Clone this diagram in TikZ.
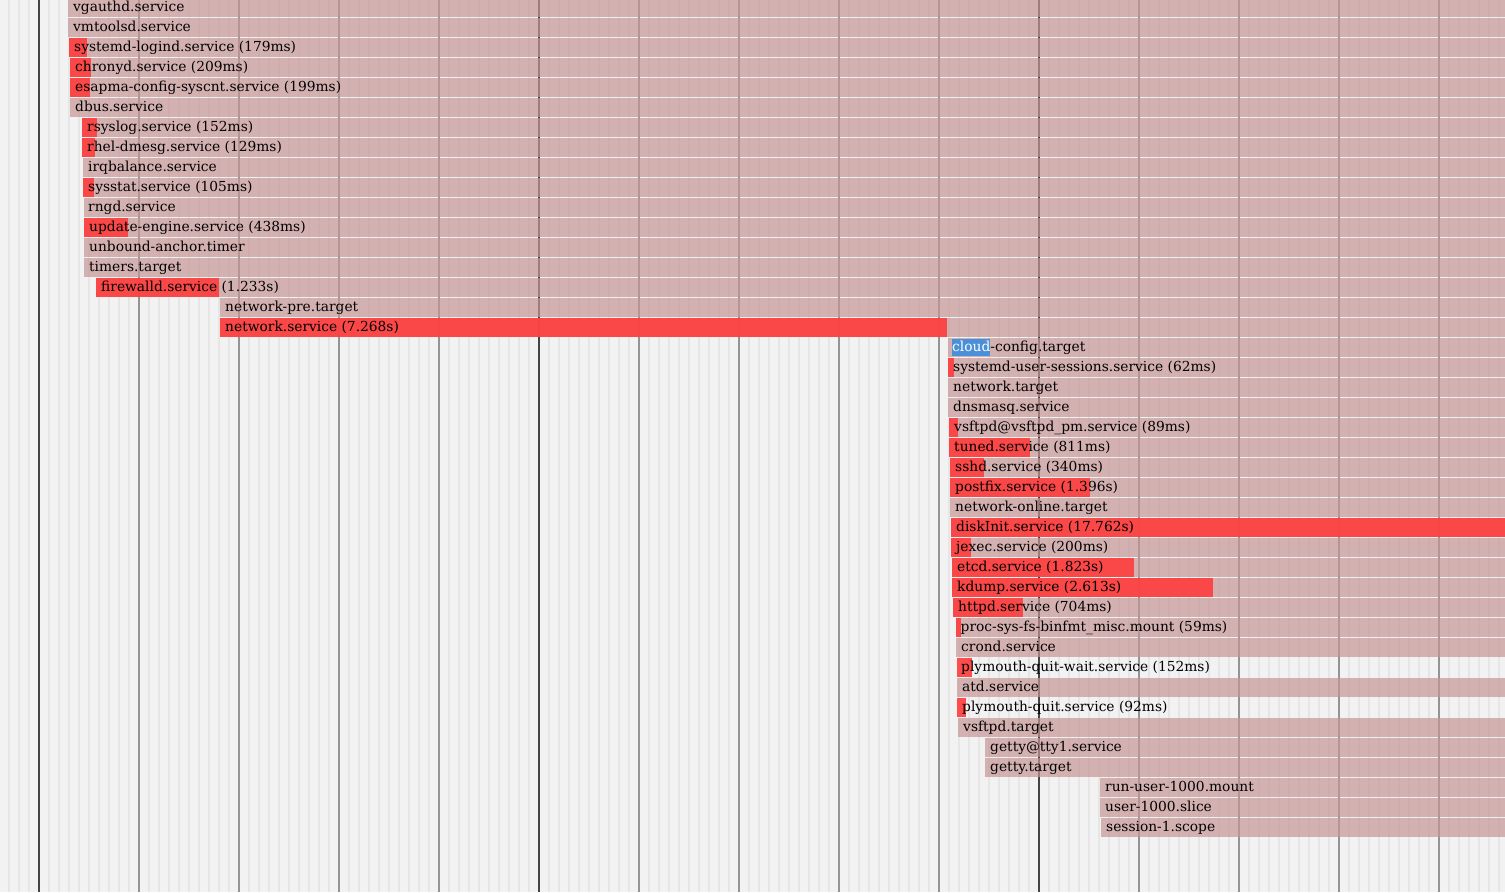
\documentclass[tikz,border=0pt]{standalone}
\usepackage{fontspec}
\setmainfont{DejaVu Serif}
\definecolor{plotbg}{RGB}{242,242,242}
\definecolor{faintline}{RGB}{230,230,230}
\definecolor{secline}{RGB}{148,148,148}
\definecolor{fiveline}{RGB}{68,68,68}
\definecolor{active}{RGB}{200,150,150}
\definecolor{activating}{RGB}{255,60,60}
\definecolor{selblue}{RGB}{74,144,217}
\tikzset{
  bar/.style={fill=active, fill opacity=0.7},
  act/.style={fill=activating, fill opacity=0.9},
  lbl/.style={anchor=base west, inner sep=0pt, font=\fontsize{13.8pt}{16pt}\selectfont},
}
\begin{document}
\begin{tikzpicture}[x=1pt, y=-1pt]
  \useasboundingbox (0,0) rectangle (1505,892);
  \clip (0,0) rectangle (1505,892);
  \fill[plotbg] (0,0) rectangle (1505,892);
  % time grid
  \foreach \gx in {9,19,...,1499} \draw[faintline, line width=1.3pt] (\gx,0) -- (\gx,892);
  \foreach \gx in {139,239,339,439,639,739,839,939,1139,1239,1339,1439} \draw[secline, line width=2pt] (\gx,0) -- (\gx,892);
  \foreach \gx in {39,539,1039} \draw[fiveline, line width=2pt] (\gx,0) -- (\gx,892);
  % units
  \fill[bar] (68,-2) rectangle (1505,17);
  \node[lbl] (vgauthd) at (73,11.9) {vgauthd.service};
  \fill[bar] (68,18) rectangle (1505,37);
  \node[lbl] (vmtoolsd) at (73,31.9) {vmtoolsd.service};
  \fill[bar] (69,38) rectangle (1505,57);
  \fill[act] (69,38) rectangle (86.9,57);
  \node[lbl] (logind) at (74,51.9) {systemd-logind.service (179ms)};
  \fill[bar] (70,58) rectangle (1505,77);
  \fill[act] (70,58) rectangle (90.9,77);
  \node[lbl] (chronyd) at (75,71.9) {chronyd.service (209ms)};
  \fill[bar] (70,78) rectangle (1505,97);
  \fill[act] (70,78) rectangle (89.9,97);
  \node[lbl] (esapma) at (75,91.9) {esapma-config-syscnt.service (199ms)};
  \fill[bar] (70,98) rectangle (1505,117);
  \node[lbl] (dbus) at (75,111.9) {dbus.service};
  \fill[bar] (82,118) rectangle (1505,137);
  \fill[act] (82,118) rectangle (97.2,137);
  \node[lbl] (rsyslog) at (87,131.9) {rsyslog.service (152ms)};
  \fill[bar] (82,138) rectangle (1505,157);
  \fill[act] (82,138) rectangle (94.9,157);
  \node[lbl] (dmesg) at (87,151.9) {rhel-dmesg.service (129ms)};
  \fill[bar] (83,158) rectangle (1505,177);
  \node[lbl] (irqbalance) at (88,171.9) {irqbalance.service};
  \fill[bar] (83,178) rectangle (1505,197);
  \fill[act] (83,178) rectangle (93.5,197);
  \node[lbl] (sysstat) at (88,191.9) {sysstat.service (105ms)};
  \fill[bar] (84,198) rectangle (1505,217);
  \node[lbl] (rngd) at (88,211.9) {rngd.service};
  \fill[bar] (84,218) rectangle (1505,237);
  \fill[act] (84,218) rectangle (127.8,237);
  \node[lbl] (updeng) at (89,231.9) {update-engine.service (438ms)};
  \fill[bar] (84,238) rectangle (1505,257);
  \node[lbl] (unbound) at (89,251.9) {unbound-anchor.timer};
  \fill[bar] (84,258) rectangle (1505,277);
  \node[lbl] (timers) at (89,271.9) {timers.target};
  \fill[bar] (96,278) rectangle (1505,297);
  \fill[act] (96,278) rectangle (219.3,297);
  \node[lbl] (firewalld) at (101,291.9) {firewalld.service (1.233s)};
  \fill[bar] (220,298) rectangle (1505,317);
  \node[lbl] (netpre) at (225,311.9) {network-pre.target};
  \fill[bar] (220,318) rectangle (1505,337);
  \fill[act] (220,318) rectangle (946.8,337);
  \node[lbl] (network) at (225,331.9) {network.service (7.268s)};
  \fill[bar] (948,338) rectangle (1505,357);
  \node[lbl] (cloudcfg) at (952,351.9) {\setlength{\fboxsep}{0pt}\colorbox{selblue}{\rule[-4.3pt]{0pt}{17pt}\textcolor{white}{cloud}}-config.target};
  \fill[bar] (948,358) rectangle (1505,377);
  \fill[act] (948,358) rectangle (954.2,377);
  \node[lbl] (usersess) at (953,371.9) {systemd-user-sessions.service (62ms)};
  \fill[bar] (948,378) rectangle (1505,397);
  \node[lbl] (nettarget) at (953,391.9) {network.target};
  \fill[bar] (948,398) rectangle (1505,417);
  \node[lbl] (dnsmasq) at (953,411.9) {dnsmasq.service};
  \fill[bar] (949,418) rectangle (1505,437);
  \fill[act] (949,418) rectangle (957.9,437);
  \node[lbl] (vsftpdpm) at (954,431.9) {vsftpd@vsftpd\_pm.service (89ms)};
  \fill[bar] (949,438) rectangle (1505,457);
  \fill[act] (949,438) rectangle (1030.1,457);
  \node[lbl] (tuned) at (954,451.9) {tuned.service (811ms)};
  \fill[bar] (950,458) rectangle (1505,477);
  \fill[act] (950,458) rectangle (984,477);
  \node[lbl] (sshd) at (955,471.9) {sshd.service (340ms)};
  \fill[bar] (950,478) rectangle (1505,497);
  \fill[act] (950,478) rectangle (1089.6,497);
  \node[lbl] (postfix) at (955,491.9) {postfix.service (1.396s)};
  \fill[bar] (950,498) rectangle (1505,517);
  \node[lbl] (netonline) at (955,511.9) {network-online.target};
  \fill[bar] (951,518) rectangle (1505,537);
  \fill[act] (951,518) rectangle (1505,537);
  \node[lbl] (diskinit) at (956,531.9) {diskInit.service (17.762s)};
  \fill[bar] (951,538) rectangle (1505,557);
  \fill[act] (951,538) rectangle (971,557);
  \node[lbl] (jexec) at (956,551.9) {jexec.service (200ms)};
  \fill[bar] (952,558) rectangle (1505,577);
  \fill[act] (952,558) rectangle (1134.3,577);
  \node[lbl] (etcd) at (957,571.9) {etcd.service (1.823s)};
  \fill[bar] (952,578) rectangle (1505,597);
  \fill[act] (952,578) rectangle (1213.3,597);
  \node[lbl] (kdump) at (957,591.9) {kdump.service (2.613s)};
  \fill[bar] (953,598) rectangle (1505,617);
  \fill[act] (953,598) rectangle (1023.4,617);
  \node[lbl] (httpd) at (958,611.9) {httpd.service (704ms)};
  \fill[bar] (955.5,618) rectangle (1505,637);
  \fill[act] (955.5,618) rectangle (961.4,637);
  \node[lbl] (binfmt) at (960.5,631.9) {proc-sys-fs-binfmt\_misc.mount (59ms)};
  \fill[bar] (956,638) rectangle (1505,657);
  \node[lbl] (crond) at (961,651.9) {crond.service};
  \fill[act] (956.5,658) rectangle (971.7,677);
  \node[lbl] (plyqwait) at (961,671.9) {plymouth-quit-wait.service (152ms)};
  \fill[bar] (957,678) rectangle (1505,697);
  \node[lbl] (atd) at (962,691.9) {atd.service};
  \fill[act] (957,698) rectangle (966.2,717);
  \node[lbl] (plyquit) at (962,711.9) {plymouth-quit.service (92ms)};
  \fill[bar] (958,718) rectangle (1505,737);
  \node[lbl] (vsftpd) at (963,731.9) {vsftpd.target};
  \fill[bar] (985,738) rectangle (1505,757);
  \node[lbl] (getty1) at (990,751.9) {getty@tty1.service};
  \fill[bar] (985,758) rectangle (1505,777);
  \node[lbl] (getty) at (990,771.9) {getty.target};
  \fill[bar] (1100,778) rectangle (1505,797);
  \node[lbl] (runuser) at (1105,791.9) {run-user-1000.mount};
  \fill[bar] (1100,798) rectangle (1505,817);
  \node[lbl] (userslice) at (1105,811.9) {user-1000.slice};
  \fill[bar] (1101,818) rectangle (1505,837);
  \node[lbl] (session) at (1106,831.9) {session-1.scope};
\end{tikzpicture}
\end{document}
